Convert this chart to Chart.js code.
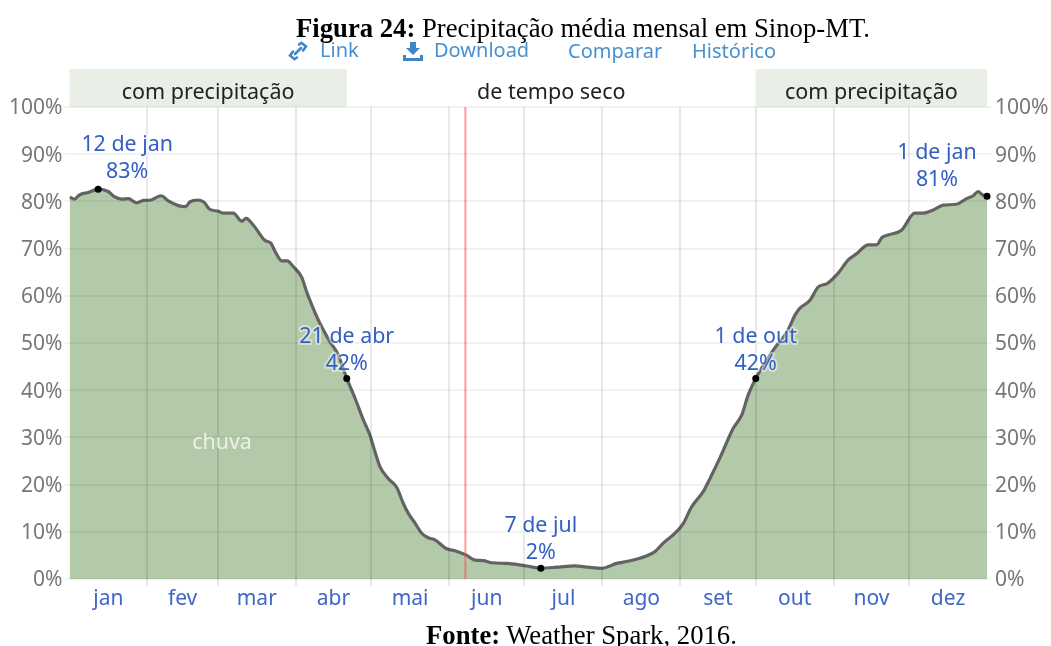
<!DOCTYPE html>
<html lang="pt">
<head>
<meta charset="utf-8">
<title>Precipitação média mensal em Sinop-MT</title>
<script src="https://cdn.jsdelivr.net/npm/chart.js@4"></script>
<style>
  body { margin: 0; background: #fff; }
  #wrap { position: relative; width: 1051px; height: 646px; overflow: hidden; }
  #myChart { position: absolute; left: 0; top: 0; }
  .cap { position: absolute; left: 0; width: 1051px; font-family: "Liberation Serif", serif; font-size: 26.7px; color: #000; white-space: nowrap; }
  .lnk { position: absolute; top: 36px; font-family: "Noto Sans", sans-serif; font-size: 20px; line-height: 28px; color: #4a90cf; white-space: nowrap; }
</style>
</head>
<body>
<div id="wrap">
  <canvas id="myChart" width="1051" height="646"></canvas>
  <div class="cap" style="top:13px;padding-left:296px"><b>Figura 24:</b> Precipitação média mensal em Sinop-MT.</div>
  <svg style="position:absolute;left:288px;top:41px" width="20" height="20" viewBox="0 0 20 20"><g fill="none" stroke="#3f86c8" stroke-width="2.6" stroke-linecap="round"><path d="M11 3.5 L13.5 1.8 L18 5.5 L15 9.5"/><path d="M9 16.5 L6.5 18.2 L2 14.5 L5 10.5"/><path d="M13 7 L7 13"/></g></svg>
  <span class="lnk" style="left:320px">Link</span>
  <svg style="position:absolute;left:402px;top:41px" width="22" height="20" viewBox="0 0 22 20"><path fill="#3f86c8" d="M8 1h6v6h4l-7 7-7-7h4zM1 14h3v3h14v-3h3v6H1z"/></svg>
  <span class="lnk" style="left:434px">Download</span>
  <span class="lnk" style="left:568px;top:37px">Comparar</span>
  <span class="lnk" style="left:692px;top:37px">Histórico</span>
  <div class="cap" style="top:620px;padding-left:426px"><b>Fonte:</b> Weather Spark, 2016.</div>
</div>
<script>
// dados: dia do ano e % de chance de precipitacao
const days = [0, 2, 4, 7.5, 11.4, 15.4, 17.8, 20.8, 23.4, 26.7, 29.4, 32.4, 36.4, 39.3, 43.3, 46.2, 47.9, 51.2, 53.6, 55.6, 59.2, 61.2, 65.2, 68.5, 70.2, 73.1, 77.8, 80, 82.1, 84.4, 86.6, 89, 92.4, 94.3, 97, 99.6, 103.6, 106.9, 110.3, 113.6, 116.9, 119.5, 121.5, 123.5, 126.8, 130.2, 132.8, 134.8, 137.5, 140.1, 142.7, 145.4, 150, 153.3, 157.7, 161.3, 164.6, 167.9, 173.9, 177.9, 181.9, 187.5, 193.8, 201, 206.4, 211.7, 217.7, 221.6, 226.9, 232.9, 236.2, 240.9, 244.2, 247.5, 252.1, 254.8, 258.7, 264, 267.4, 270, 273, 280, 285.9, 288.6, 290.6, 294.5, 297.9, 301.4, 305.8, 309.8, 313.1, 317.7, 321.1, 323.3, 325.7, 331, 336.3, 339.6, 343.6, 347.6, 352.9, 356.9, 359.5, 361.5, 362.9, 365];
const rain = [80.9, 80.5, 81.4, 81.9, 82.6, 82.1, 81, 80.5, 80.6, 79.7, 80.2, 80.3, 81.2, 80.1, 79.1, 78.9, 79.9, 80.3, 79.8, 78.4, 77.9, 77.5, 77.5, 75.8, 76.4, 75, 71.7, 71.2, 69.1, 67.4, 67.4, 66.2, 63.9, 60.9, 57.3, 54.2, 50.3, 47.5, 42.5, 38.3, 33.7, 30.5, 27, 23.8, 21.3, 19.4, 16, 13.9, 11.8, 9.7, 8.75, 8.3, 6.4, 6, 5.1, 4, 3.9, 3.45, 3.3, 3.1, 2.75, 2.3, 2.5, 2.8, 2.5, 2.27, 3.3, 3.7, 4.4, 5.8, 7.6, 9.7, 11.8, 15.3, 18.5, 21.3, 25.6, 31.9, 34.7, 39, 42.5, 48.5, 52.8, 55.9, 57.4, 59, 61.9, 62.6, 64.8, 67.6, 68.9, 70.8, 70.8, 72.4, 72.9, 73.9, 77.5, 77.5, 78.2, 79.2, 79.4, 80.6, 81.2, 82.1, 81.5, 81.1];

const months = ["jan", "fev", "mar", "abr", "mai", "jun", "jul", "ago", "set", "out", "nov", "dez"];
const monthStarts = [31, 59, 90, 120, 151, 181, 212, 243, 273, 304, 334];
const monthMids = [15.5, 45, 74.5, 105, 135.5, 166, 196.5, 227.5, 258, 288.5, 319, 349.5];
const yTicks = [0, 10, 20, 30, 40, 50, 60, 70, 80, 90, 100];

const markDays = [11.4, 110.3, 187.5, 273, 365];
const markRain = [82.6, 42.5, 2.3, 42.5, 81.1];
const markDate = ["12 de jan", "21 de abr", "7 de jul", "1 de out", "1 de jan"];
const markPct = ["83%", "42%", "2%", "42%", "81%"];

const seasonStart = [0, 110.3, 273];
const seasonEnd = [110.3, 273, 365];
const seasonNames = ["com precipitação", "de tempo seco", "com precipitação"];
const wetSeason = [true, false, true];

const solsticeDay = 157.5;

const FONT = '"Noto Sans", sans-serif';
const font21 = { family: FONT, size: 21 };

// faixas de cima, textos dos pontos e o rotulo "chuva"
const overlay = {
  id: "overlay",
  beforeDatasetsDraw(chart) {
    const { ctx, scales, chartArea } = chart;
    ctx.save();
    seasonNames.forEach((name, i) => {
      const a = scales.x.getPixelForValue(seasonStart[i]);
      const b = scales.x.getPixelForValue(seasonEnd[i]);
      if (wetSeason[i]) {
        ctx.fillStyle = "#e9efe7";
        ctx.fillRect(a, chartArea.top - 38, b - a, 38);
      }
      ctx.fillStyle = "#222";
      ctx.font = '21.5px ' + FONT;
      ctx.textAlign = "center";
      ctx.textBaseline = "middle";
      ctx.fillText(name, (a + b) / 2, chartArea.top - 14);
    });
    ctx.restore();
  },
  afterDraw(chart) {
    const { ctx, scales } = chart;
    const shiftX = [29, 0, 0, 0, -50];
    const shiftY = [-44, -41, -42, -41, -43];
    ctx.save();
    ctx.font = '21.4px ' + FONT;
    ctx.textAlign = "center";
    ctx.textBaseline = "middle";
    ctx.lineJoin = "round";
    markDays.forEach((d, i) => {
      const px = scales.x.getPixelForValue(d) + shiftX[i];
      const py = scales.y.getPixelForValue(markRain[i]) + shiftY[i];
      [[markDate[i], py], [markPct[i], py + 27]].forEach(([txt, ty]) => {
        ctx.lineWidth = 4;
        ctx.strokeStyle = "rgba(255,255,255,0.45)";
        ctx.strokeText(txt, px, ty);
        ctx.fillStyle = "#335fc4";
        ctx.fillText(txt, px, ty);
      });
    });
    ctx.fillStyle = "rgba(255,255,255,0.75)";
    ctx.fillText("chuva", scales.x.getPixelForValue(60.7), scales.y.getPixelForValue(29) + 1);
    ctx.restore();
  }
};

new Chart(document.getElementById("myChart").getContext("2d"), {
  type: "line",
  plugins: [overlay],
  data: {
    datasets: [{
      label: "chuva",
      data: days.map((d, i) => ({ x: d, y: rain[i] })),
      borderColor: "#636363",
      borderWidth: 3.2,
      backgroundColor: "#b2caa9",
      fill: "origin",
      pointRadius: 0,
      cubicInterpolationMode: "monotone",
      order: 3
    }, {
      label: "hoje",
      data: [{ x: solsticeDay, y: 0 }, { x: solsticeDay, y: 100 }],
      borderColor: "rgba(255,70,70,0.55)",
      borderWidth: 2,
      pointRadius: 0,
      order: 2
    }, {
      label: "marcas",
      data: markDays.map((d, i) => ({ x: d, y: markRain[i] })),
      showLine: false,
      pointRadius: 3.5,
      pointBackgroundColor: "#000",
      pointBorderWidth: 0,
      clip: false,
      order: 1
    }]
  },
  options: {
    responsive: false,
    animation: false,
    layout: { padding: { top: 107 } },
    plugins: { legend: { display: false }, title: { display: false }, tooltip: { enabled: false } },
    scales: {
      x: {
        type: "linear", min: 0, max: 365, position: "bottom",
        afterBuildTicks(s) { s.ticks = monthStarts.map(v => ({ value: v })); },
        afterFit(s) { s.height = 7; },
        ticks: { callback: () => "", autoSkip: false, maxRotation: 0, padding: 0, font: { size: 1 } },
        grid: { color: "rgba(0,0,0,0.09)", lineWidth: 2, tickLength: 7, z: 1 },
        border: { display: false }
      },
      x2: {
        type: "linear", min: 0, max: 365, position: "bottom",
        afterBuildTicks(s) { s.ticks = monthMids.map(v => ({ value: v })); },
        afterFit(s) { s.height = 60; },
        ticks: { callback: (v, i) => months[i], autoSkip: false, maxRotation: 0, color: "#3f66c8", font: font21, padding: 0 },
        grid: { display: false, drawTicks: false },
        border: { display: false }
      },
      y: {
        type: "linear", min: 0, max: 100, position: "left",
        afterBuildTicks(s) { s.ticks = yTicks.map(v => ({ value: v })); },
        afterFit(s) { s.width = 69.5; },
        ticks: { callback: v => v + "%", color: "#777", font: font21, padding: 2, labelOffset: 1.5 },
        grid: { color: "rgba(0,0,0,0.05)", lineWidth: 2, tickLength: 5, z: 1 },
        border: { display: false }
      },
      y2: {
        type: "linear", min: 0, max: 100, position: "right",
        afterBuildTicks(s) { s.ticks = yTicks.map(v => ({ value: v })); },
        afterFit(s) { s.width = 64; },
        ticks: { callback: v => v + "%", color: "#777", font: font21, padding: 4, labelOffset: 1.5 },
        grid: { drawOnChartArea: false, color: "rgba(0,0,0,0.05)", lineWidth: 2, tickLength: 4 },
        border: { display: false }
      }
    }
  }
});
</script>
</body>
</html>
